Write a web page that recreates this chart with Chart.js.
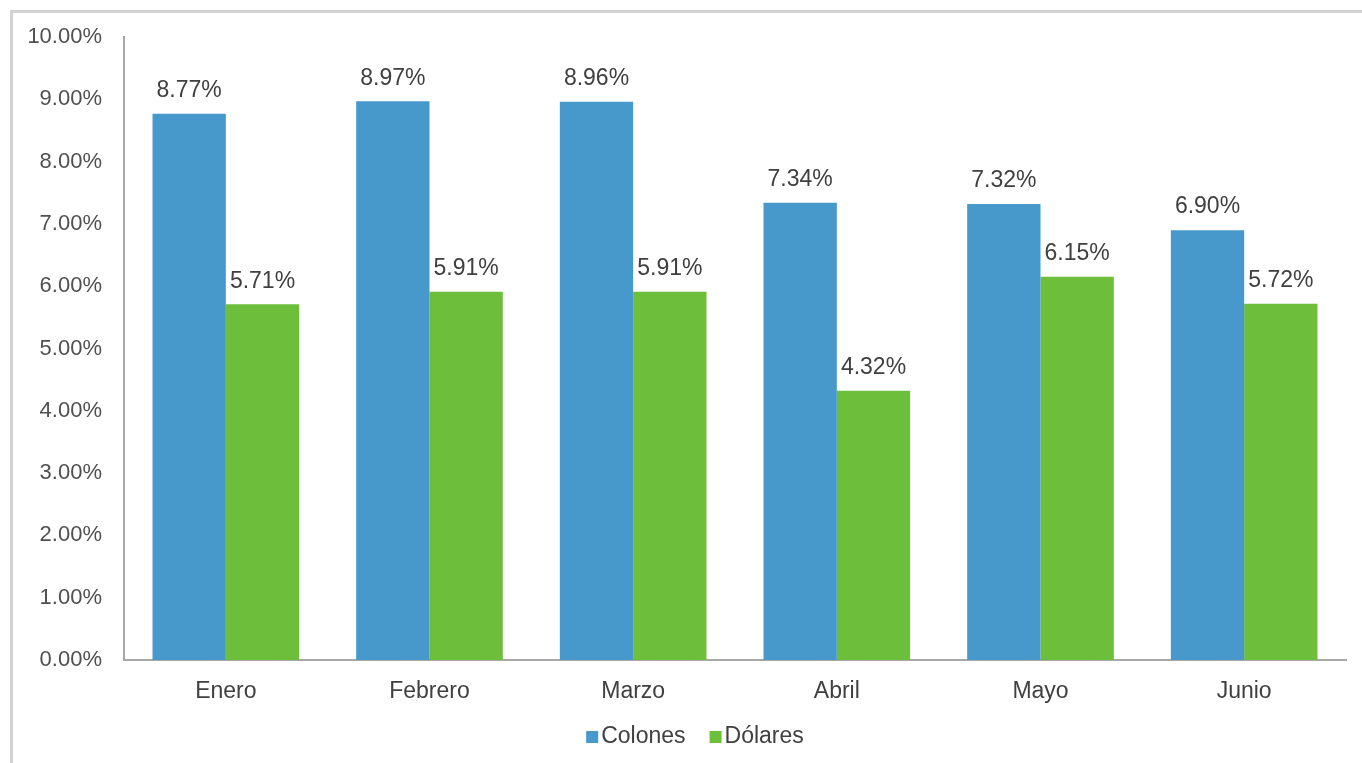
<!DOCTYPE html>
<html>
<head>
<meta charset="utf-8">
<script src="https://cdn.jsdelivr.net/npm/chart.js@4.4.1/dist/chart.umd.min.js"></script>
<style>
    html, body { margin: 0; padding: 0; background: #fff; overflow: hidden; }
    #frame {
        position: absolute; left: 10px; top: 10px;
        width: 2000px; height: 2000px;
        border-left: 3px solid #d2d2d2; border-top: 3px solid #d2d2d2;
    }
    #wrap { position: absolute; left: 0; top: 0; width: 1362px; height: 763px; }
</style>
</head>
<body>
<div id="frame"></div>
<div id="wrap"><canvas id="myChart"></canvas></div>
<script>
const meses = ['Enero', 'Febrero', 'Marzo', 'Abril', 'Mayo', 'Junio'];
const colones = [8.77, 8.97, 8.96, 7.34, 7.32, 6.90];
const dolares = [5.71, 5.91, 5.91, 4.32, 6.15, 5.72];
const yTicks = [0, 1, 2, 3, 4, 5, 6, 7, 8, 9, 10];

const BLUE = '#4699ca';
const GREEN = '#6dbe3a';
const FONT = "'Liberation Sans', Arial, sans-serif";

const pct = v => Number(v).toFixed(2) + '%';

// value labels above each bar
const barLabels = {
    id: 'barLabels',
    afterDatasetsDraw(chart) {
        const ctx = chart.ctx;
        ctx.save();
        ctx.font = '23px ' + FONT;
        ctx.fillStyle = '#404040';
        ctx.textAlign = 'center';
        ctx.textBaseline = 'middle';
        chart.data.datasets.forEach((ds, i) => {
            chart.getDatasetMeta(i).data.forEach((bar, j) => {
                ctx.fillText(pct(ds.data[j]), bar.x, bar.y - 23);
            });
        });
        ctx.restore();
    }
};

// small square legend under the axis
const bottomLegend = {
    id: 'bottomLegend',
    afterDraw(chart) {
        const ctx = chart.ctx;
        ctx.save();
        ctx.font = '23px ' + FONT;
        ctx.textBaseline = 'middle';
        const box = 12, gap = 3, spacing = 24;
        const items = chart.data.datasets.map(ds => ({
            text: ds.label, color: ds.backgroundColor,
            w: box + gap + ctx.measureText(ds.label).width
        }));
        const total = items.reduce((s, it) => s + it.w, 0) + spacing * (items.length - 1);
        let x = chart.width / 2 + 14 - total / 2;
        const y = 737;
        items.forEach(it => {
            ctx.fillStyle = it.color;
            ctx.fillRect(x, y - box / 2, box, box);
            ctx.fillStyle = '#404040';
            ctx.fillText(it.text, x + box + gap, y);
            x += it.w + spacing;
        });
        ctx.restore();
    }
};

let chart = new Chart(document.getElementById('myChart'), {
    type: 'bar',
    data: {
        labels: meses,
        datasets: [
            { label: 'Colones', data: colones, backgroundColor: BLUE },
            { label: 'Dólares', data: dolares, backgroundColor: GREEN }
        ]
    },
    options: {
        responsive: true,
        maintainAspectRatio: false,
        animation: false,
        layout: { padding: { top: 37, right: 16, left: 0, bottom: 0 } },
        datasets: { bar: { categoryPercentage: 0.72, barPercentage: 1.0 } },
        plugins: {
            legend: { display: false },
            tooltip: { enabled: false }
        },
        scales: {
            x: {
                grid: { display: false, drawTicks: false },
                border: { color: '#a8a8a8', width: 2 },
                ticks: { color: '#404040', font: { family: FONT, size: 23 }, padding: 18 },
                afterFit: s => { s.height = 103; }
            },
            y: {
                min: 0,
                max: 10,
                grid: { display: false, drawTicks: false },
                border: { color: '#a8a8a8', width: 2 },
                afterBuildTicks: s => { s.ticks = yTicks.map(v => ({ value: v })); },
                ticks: {
                    color: '#505050',
                    font: { family: FONT, size: 22 },
                    padding: 22,
                    callback: v => pct(v)
                },
                afterFit: s => { s.width = 124; }
            }
        }
    },
    plugins: [barLabels, bottomLegend]
});
</script>
</body>
</html>
